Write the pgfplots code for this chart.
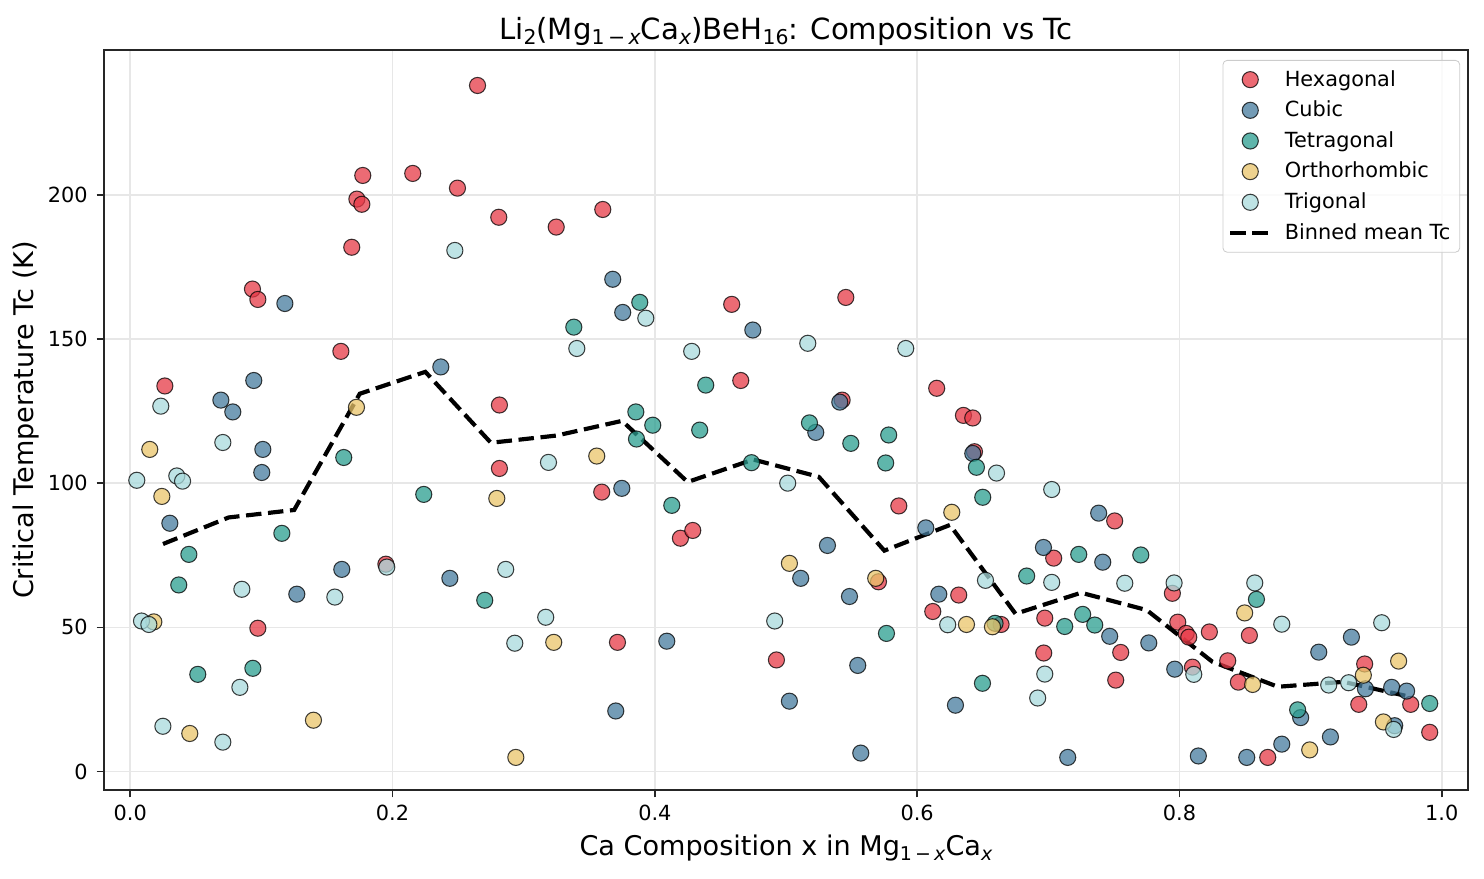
\documentclass[border=0pt]{standalone}
\usepackage{fontspec}
\setmainfont{DejaVu Sans}
\usepackage{pgfplots}
\pgfplotsset{compat=1.18}
\definecolor{hexc}{HTML}{E63946}
\definecolor{cubc}{HTML}{457B9D}
\definecolor{tetc}{HTML}{2A9D8F}
\definecolor{ortc}{HTML}{E9C46A}
\definecolor{trgc}{HTML}{A8DADC}
\definecolor{gridc}{HTML}{E7E7E7}
\newcommand{\sub}[1]{\raisebox{-0.17em}{\scalebox{0.7}{#1}}}
\pgfplotsset{
  scat/.style={only marks, mark=*, mark size=3.87bp,
    mark options={fill=#1, draw=black, line width=0.5bp, opacity=0.75},
    legend image code/.code={\draw[mark repeat=2,mark phase=2,##1] plot coordinates {(0bp,0bp) (9.6bp,0bp) (19.2bp,0bp)};}},
  lineimg/.style={legend image code/.code={\draw[##1] (0bp,0bp) -- (19.2bp,0bp);}},
}
\begin{document}
\begin{tikzpicture}
\begin{axis}[
  at={(0,0)}, anchor=south west,
  scale only axis, width=654.72bp, height=355.2bp,
  xmin=-0.02, xmax=1.02, ymin=-6.4, ymax=250.2,
  xtick={0,0.2,0.4,0.6,0.8,1.0}, ytick={0,50,100,150,200},
  axis line style={black!85, line width=0.8bp},
  tick style={black!85, line width=0.8bp},
  tick align=outside, major tick length=3.5bp,
  xtick pos=bottom, ytick pos=left,
  grid=major, major grid style={gridc, line width=0.8bp},
  /pgf/number format/assume math mode=true,
  ticklabel style={font=\fontsize{10bp}{12bp}\selectfont},
  xticklabel style={/pgf/number format/fixed, /pgf/number format/fixed zerofill, /pgf/number format/precision=1},
  yticklabel style={/pgf/number format/fixed},
  x tick label style={anchor=base, inner sep=0pt, yshift=-11bp},
  y tick label style={anchor=east, inner sep=0pt, xshift=-4.2bp},
  title={Li\sub{2}(Mg\sub{1\,−\,\textit{x}}Ca\sub{\textit{x}})BeH\sub{16}: Composition vs Tc},
  title style={at={(0.5,0.9967)}, anchor=base, inner sep=0pt, font=\fontsize{14bp}{17bp}\selectfont},
  xlabel={Ca Composition x in Mg\sub{1\,−\,\textit{x}}Ca\sub{\textit{x}}},
  xlabel style={at={(0.5,-0.0887)}, anchor=base, inner sep=0pt, font=\fontsize{13bp}{15bp}\selectfont},
  ylabel={Critical Temperature Tc (K)},
  ylabel style={at={(-0.0518,0.5)}, rotate=0, anchor=base, inner sep=0pt, font=\fontsize{13bp}{15bp}\selectfont},
  legend cell align=left,
  legend style={at={(0.9942,0.9865)}, anchor=north east, font=\fontsize{10bp}{12bp}\selectfont,
    draw=black!20, rounded corners=2bp, fill=white, fill opacity=0.8, text opacity=1,
    row sep=1.64bp, inner xsep=2.5bp, inner ysep=2.7bp,
    /tikz/every odd column/.append style={column sep=4bp}},
]
\addplot[scat=hexc] coordinates {
(0.0264,133.7) (0.0932,167.3) (0.0973,163.7) (0.0973,49.7) (0.1606,145.7)
(0.1689,181.8) (0.1728,198.5) (0.1766,196.7) (0.1773,206.7) (0.1949,71.9)
(0.2154,207.4) (0.2495,202.3) (0.2648,237.9) (0.2810,192.2) (0.2815,127.1)
(0.2815,105.1) (0.3248,188.8) (0.3603,194.9) (0.3595,96.9) (0.3715,44.8)
(0.4195,80.9) (0.4289,83.6) (0.4586,162.0) (0.4655,135.6) (0.4927,38.7)
(0.5428,128.8) (0.5456,164.4) (0.5705,65.8) (0.5860,92.1) (0.6149,132.9)
(0.6119,55.5) (0.6317,61.2) (0.6353,123.5) (0.6424,122.6) (0.6437,110.9)
(0.6640,51.0) (0.6973,53.2) (0.6965,41.1) (0.7041,74.0) (0.7506,86.9)
(0.7552,41.3) (0.7514,31.7) (0.7946,61.8) (0.7987,51.8) (0.8051,47.9)
(0.8071,46.6) (0.8099,36.2) (0.8228,48.4) (0.8368,38.4) (0.8449,31.0)
(0.8533,47.2) (0.8673,4.9) (0.9367,23.3) (0.9412,37.3) (0.9763,23.3)
(0.9908,13.6)
};
\addlegendentry{Hexagonal}
\addplot[scat=cubc] coordinates {
(0.0302,86.1) (0.0691,128.8) (0.0782,124.7) (0.0942,135.6) (0.1011,111.7)
(0.1003,103.7) (0.1179,162.3) (0.1270,61.5) (0.1613,70.1) (0.2368,140.3)
(0.2437,67.0) (0.3679,170.7) (0.3755,159.2) (0.3748,98.2) (0.3702,21.0)
(0.4091,45.2) (0.4747,153.1) (0.5026,24.4) (0.5112,67.0) (0.5227,117.6)
(0.5410,128.1) (0.5316,78.4) (0.5484,60.7) (0.5547,36.8) (0.5570,6.4)
(0.6066,84.5) (0.6165,61.5) (0.6292,23.0) (0.6424,110.3) (0.6963,77.7)
(0.7148,4.9) (0.7384,89.6) (0.7415,72.6) (0.7468,46.9) (0.7766,44.6)
(0.7964,35.5) (0.8144,5.4) (0.8513,4.9) (0.8780,9.5) (0.8924,18.7)
(0.9062,41.4) (0.9151,12.0) (0.9311,46.6) (0.9418,28.7) (0.9618,29.2)
(0.9641,15.9) (0.9732,27.9)
};
\addlegendentry{Cubic}
\addplot[scat=tetc] coordinates {
(0.0447,75.3) (0.0370,64.7) (0.0515,33.7) (0.0935,35.8) (0.1156,82.6)
(0.1628,108.9) (0.2238,96.1) (0.2703,59.4) (0.3382,154.1) (0.3855,124.7)
(0.3885,162.7) (0.3860,115.3) (0.3984,120.1) (0.4129,92.3) (0.4342,118.4)
(0.4388,134.0) (0.4737,107.1) (0.5179,120.9) (0.5494,113.8) (0.5766,47.9)
(0.5760,107.0) (0.5783,116.7) (0.6498,30.6) (0.6452,105.5) (0.6500,95.1)
(0.6594,51.4) (0.6835,67.8) (0.7125,50.3) (0.7232,75.3) (0.7262,54.5)
(0.7354,50.8) (0.7705,75.1) (0.8587,59.7) (0.8901,21.4) (0.9908,23.6)
};
\addlegendentry{Tetragonal}
\addplot[scat=ortc] coordinates {
(0.0149,111.7) (0.0241,95.4) (0.0180,51.9) (0.0454,13.2) (0.1397,17.8)
(0.1725,126.3) (0.2795,94.7) (0.2940,4.9) (0.3229,44.8) (0.3557,109.4)
(0.5026,72.2) (0.5684,67.0) (0.6264,89.9) (0.6376,51.0) (0.6574,50.2)
(0.8497,55.0) (0.8558,30.2) (0.8993,7.5) (0.9402,33.4) (0.9555,17.2)
(0.9671,38.3)
};
\addlegendentry{Orthorhombic}
\addplot[scat=trgc] coordinates {
(0.0050,101.0) (0.0233,126.7) (0.0086,52.2) (0.0142,51.0) (0.0249,15.7)
(0.0355,102.5) (0.0399,100.7) (0.0706,114.1) (0.0706,10.2) (0.0851,63.2)
(0.0836,29.2) (0.1560,60.5) (0.1956,70.9) (0.2475,180.7) (0.2863,70.1)
(0.2932,44.5) (0.3168,53.5) (0.3189,107.2) (0.3405,146.7) (0.3931,157.2)
(0.4281,145.7) (0.4914,52.2) (0.5013,100.0) (0.5166,148.5) (0.5913,146.7)
(0.6233,50.9) (0.6521,66.3) (0.6605,103.5) (0.6919,25.5) (0.6973,33.8)
(0.7026,97.8) (0.7026,65.6) (0.7583,65.3) (0.7959,65.4) (0.8109,33.7)
(0.8574,65.4) (0.8780,51.1) (0.9138,30.0) (0.9290,30.8) (0.9542,51.6)
(0.9633,14.6)
};
\addlegendentry{Trigonal}
\addplot[black, line width=2bp, dash pattern=on 7.4bp off 3.2bp, lineimg] coordinates {
(0.025,78.9) (0.075,88.1) (0.125,90.7) (0.175,131.0) (0.225,138.6)
(0.275,114.0) (0.325,116.5) (0.375,121.6) (0.425,100.4) (0.475,108.2)
(0.525,102.2) (0.575,76.6) (0.625,85.5) (0.675,54.7) (0.725,62.0)
(0.775,56.0) (0.825,38.1) (0.875,29.4) (0.925,31.1) (0.975,26.0)
};
\addlegendentry{Binned mean Tc}
\end{axis}
\pgfresetboundingbox
\useasboundingbox (-49.92bp,-42.72bp) rectangle (662.4bp,379.2bp);
\end{tikzpicture}
\end{document}
